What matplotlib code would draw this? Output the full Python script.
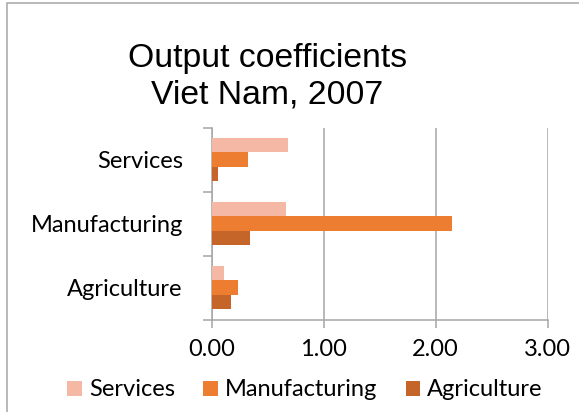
import numpy as np
import matplotlib
matplotlib.use("Agg")
import matplotlib.pyplot as plt
from matplotlib.patches import Rectangle, Patch

# Data
categories = ["Agriculture", "Manufacturing", "Services"]
series_names = ["Services", "Manufacturing", "Agriculture"]
services = [0.11, 0.66, 0.68]
manufacturing = [0.23, 2.15, 0.325]
agriculture = [0.17, 0.34, 0.05]
x_ticks = [0, 1, 2, 3]
x_tick_labels = ["0.00", "1.00", "2.00", "3.00"]

colors = ["#F4B8A4", "#ED7D31", "#C5652A"]
grid_col = "#A6A6A6"
label_font = "Lato"
label_size = 17

fig = plt.figure(figsize=(5.79, 4.12), dpi=100)
ax = fig.add_axes([212 / 579, 1 - 319.5 / 412, (547.5 - 212) / 579, (319.5 - 127.5) / 412])

# Horizontal clustered bars, Services on top within each group
bar_h = 0.219
y = np.arange(len(categories))
offsets = [bar_h, 0, -bar_h]
for vals, name, col, off in zip([services, manufacturing, agriculture], series_names, colors, offsets):
    ax.barh(y + off, vals, height=bar_h, color=col, label=name, zorder=3)

ax.set_xlim(0, 3)
ax.set_ylim(-0.5, 2.5)

# Axes styling
for s in ["top", "right"]:
    ax.spines[s].set_visible(False)
for s in ["left", "bottom"]:
    ax.spines[s].set_color(grid_col)
    ax.spines[s].set_linewidth(1.1)

ax.set_xticks(x_ticks)
ax.set_xticklabels(x_tick_labels, fontsize=label_size, family=label_font)
ax.tick_params(axis="x", length=6, width=1.1, color=grid_col, pad=8)
ax.grid(axis="x", color=grid_col, linewidth=1.1, zorder=0)

ax.set_yticks(y)
ax.set_yticklabels(categories, fontsize=label_size, family=label_font)
ax.set_yticks([-0.5, 0.5, 1.5, 2.5], minor=True)
ax.tick_params(axis="y", which="major", length=0, pad=21)
ax.tick_params(axis="y", which="minor", length=6.5, width=1.1, color=grid_col)

# Title
fig.text(0.462, 1 - 66.7 / 412, "Output coefficients", ha="center", va="baseline",
         fontsize=24.3, family="Liberation Sans")
fig.text(0.462, 1 - 104 / 412, "Viet Nam, 2007", ha="center", va="baseline",
         fontsize=24.3, family="Liberation Sans")

# Legend
handles = [Patch(facecolor=c, label=n) for c, n in zip(colors, series_names)]
fig.legend(handles=handles, loc="center", bbox_to_anchor=(305 / 579, 1 - 390 / 412), ncol=3,
           frameon=False, prop={"family": label_font, "size": label_size},
           handlelength=0.62, handleheight=0.62, handletextpad=0.3, columnspacing=1.2,
           borderaxespad=0, borderpad=0)

# Chart area outline (cropped on right and bottom)
fig.patches.append(Rectangle((7.3 / 579, -0.2), 1.5, 1.2 - 2.7 / 412, transform=fig.transFigure,
                             fill=False, edgecolor=grid_col, linewidth=1.1))

fig.savefig("out.png", dpi=100)
